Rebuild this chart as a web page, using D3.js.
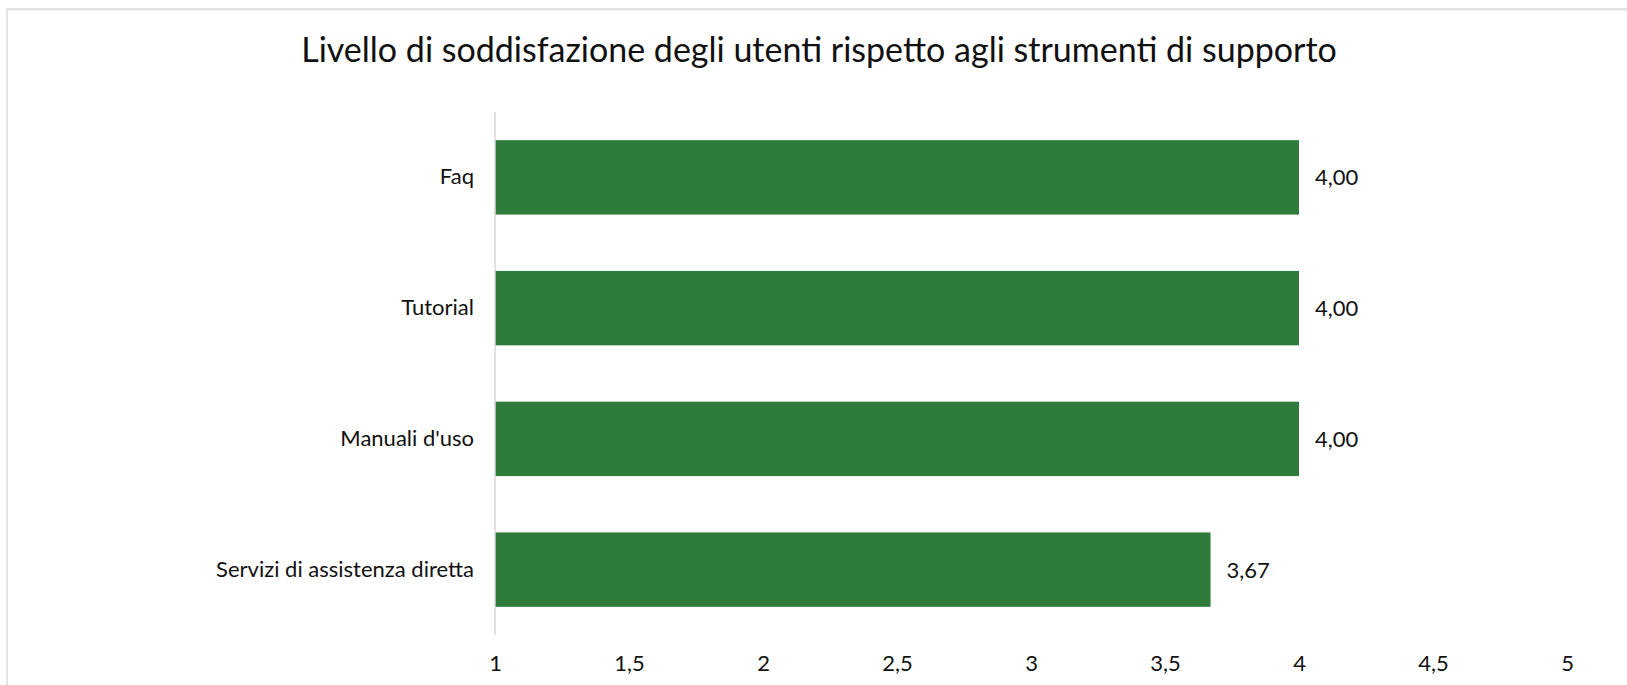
<!DOCTYPE html>
<html>
<head>
<meta charset="utf-8">
<script src="https://cdn.jsdelivr.net/npm/d3@7"></script>
<style>
  html, body { margin: 0; padding: 0; background: #fff; }
  svg { display: block; }
  text { font-family: Lato, "Open Sans", sans-serif; fill: #111; }
</style>
</head>
<body>
<svg id="chart" width="1627" height="685"></svg>
<script>
// data
const categories = ["Faq", "Tutorial", "Manuali d'uso", "Servizi di assistenza diretta"];
const values = [4.00, 4.00, 4.00, 3.67];
const xTicks = [1, 1.5, 2, 2.5, 3, 3.5, 4, 4.5, 5];
const title = "Livello di soddisfazione degli utenti rispetto agli strumenti di supporto";

const svg = d3.select("svg#chart");
const width = +svg.attr("width");
const height = +svg.attr("height");

const barColor = "#2e7b3c";
const fmtComma = (d, digits) => d3.format("." + digits + "f")(d).replace(".", ",");

// chart frame (only top and left edges show)
svg.append("line")
    .attr("x1", 7).attr("x2", width)
    .attr("y1", 9.3).attr("y2", 9.3)
    .attr("stroke", "#dcdcdc").attr("stroke-width", 2);
svg.append("line")
    .attr("x1", 7).attr("x2", 7)
    .attr("y1", 9).attr("y2", height)
    .attr("stroke", "#dcdcdc").attr("stroke-width", 1.6);

// title
svg.append("text")
    .attr("x", 819)
    .attr("y", 62)
    .attr("text-anchor", "middle")
    .style("font-size", "34px")
    .text(title);

// scales
const x = d3.scaleLinear().domain([1, 5]).range([495, 1567]);
const y = d3.scaleBand()
    .domain(categories)
    .range([112, 635])
    .paddingInner(0.431)
    .paddingOuter(0.2155);

// bars
svg.append("g").selectAll("rect")
    .data(categories)
    .join("rect")
    .attr("x", x(1))
    .attr("y", d => y(d))
    .attr("width", (d, i) => x(values[i]) - x(1))
    .attr("height", y.bandwidth())
    .attr("fill", barColor);

// value labels
svg.append("g").selectAll("text")
    .data(categories)
    .join("text")
    .attr("x", (d, i) => x(values[i]) + 16)
    .attr("y", d => y(d) + y.bandwidth() / 2)
    .attr("dy", "0.36em")
    .style("font-size", "22px")
    .text((d, i) => fmtComma(values[i], 2));

// vertical axis line + category labels
svg.append("line")
    .attr("x1", x(1)).attr("x2", x(1))
    .attr("y1", 112).attr("y2", 635)
    .attr("stroke", "#d9d9d9").attr("stroke-width", 1.5);

const yAxis = d3.axisLeft(y).tickSize(0).tickPadding(21);
const gy = svg.append("g")
    .attr("transform", `translate(${x(1)},0)`)
    .call(yAxis);
gy.select(".domain").remove();
gy.selectAll("text")
    .style("font-size", "22px")
    .style("font-family", "Lato, sans-serif")
    .attr("fill", "#111");

// horizontal tick labels (no axis line)
const xAxis = d3.axisBottom(x).tickValues(xTicks).tickSize(0).tickPadding(19)
    .tickFormat(d => String(d).replace(".", ","));
const gx = svg.append("g")
    .attr("transform", "translate(0,636)")
    .call(xAxis);
gx.select(".domain").remove();
gx.selectAll("text")
    .style("font-size", "22px")
    .style("font-family", "Lato, sans-serif")
    .attr("fill", "#111");
</script>
</body>
</html>
